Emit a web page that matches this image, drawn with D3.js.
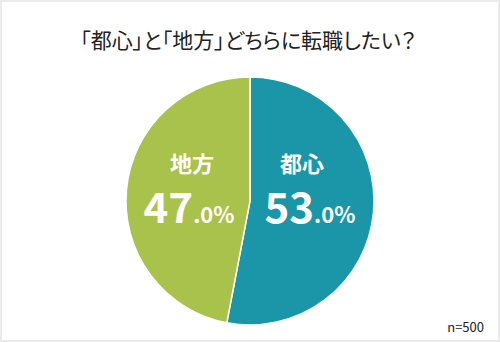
<!DOCTYPE html>
<html>
<head>
<meta charset="utf-8">
<script src="https://cdn.jsdelivr.net/npm/d3@7"></script>
<style>
  body { margin: 0; background: #fff; }
  svg { display: block; }
  .palt { font-feature-settings: "palt"; }
</style>
</head>
<body>
<div id="chart"></div>
<script>
// データ
var categories = ['都心', '地方']
var values = [53.0, 47.0]
var colors = ['#1b96a8', '#a9c24b']
var title = '「都心」と「地方」どちらに転職したい？'
var note = 'n=500'

var width = 500, height = 342
var cx = 250, cy = 201, r = 124
var font = "'Noto Sans CJK JP', 'Noto Sans', sans-serif"

var svg = d3.select('#chart')
  .append('svg')
  .attr('width', width)
  .attr('height', height)

// 外枠
svg.append('rect')
  .attr('x', 1).attr('y', 1)
  .attr('width', width - 2).attr('height', height - 2)
  .attr('fill', '#fff')
  .attr('stroke', '#ebebeb')
  .attr('stroke-width', 2)

svg.append('text')
  .attr('class', 'palt')
  .attr('x', 248).attr('y', 48)
  .attr('text-anchor', 'middle')
  .attr('font-family', font)
  .attr('font-size', '21px')
  .attr('fill', '#222')
  .text(title)

var pie = d3.pie().sort(null).value(function (d) { return d })
var arcs = pie(values)
var arc = d3.arc().innerRadius(0).outerRadius(r)

var g = svg.append('g').attr('transform', 'translate(' + cx + ',' + cy + ')')
g.selectAll('path')
  .data(arcs)
  .enter()
  .append('path')
  .attr('d', arc)
  .attr('fill', function (d, i) { return colors[i] })
  .attr('stroke', '#fff')
  .attr('stroke-width', 1.5)

// ラベル位置（各扇形の中心方向）
var labelArc = d3.arc().innerRadius(r * 0.5).outerRadius(r * 0.5)
arcs.forEach(function (d, i) {
  var c = labelArc.centroid(d)
  var lx = c[0] > 0 ? 52 : -58
  g.append('text')
    .attr('x', lx).attr('y', -29)
    .attr('text-anchor', 'middle')
    .attr('font-family', font)
    .attr('font-size', '22px')
    .attr('font-weight', 'bold')
    .attr('fill', '#fff')
    .text(categories[i])

  var v = g.append('text')
    .attr('x', lx + (c[0] > 0 ? 8 : -3)).attr('y', 22)
    .attr('text-anchor', 'middle')
    .attr('font-family', font)
    .attr('font-weight', 'bold')
    .attr('fill', '#fff')
  var s = values[i].toFixed(1).split('.')
  v.append('tspan').attr('font-size', '42px').text(s[0])
  v.append('tspan').attr('font-size', '22px').text('.' + s[1] + '%')
})

svg.append('text')
  .attr('x', 484).attr('y', 332)
  .attr('text-anchor', 'end')
  .attr('font-family', font)
  .attr('font-size', '13px')
  .attr('fill', '#222')
  .text(note)
</script>
</body>
</html>
